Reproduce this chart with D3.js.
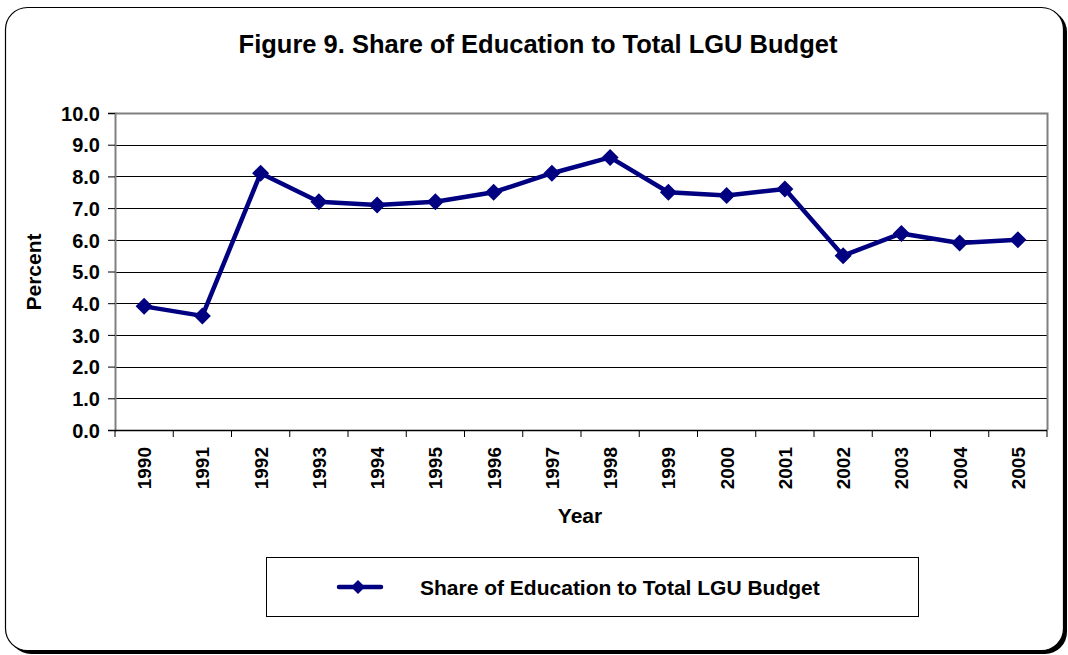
<!DOCTYPE html>
<html lang="en">
<head>
  <meta charset="UTF-8">
  <title>Share of Education to Total LGU Budget</title>
  <style>
    body { margin: 0; background: #fff; font-family: "Liberation Sans", Arial, sans-serif; }
    svg text { font-weight: bold; fill: #000; font-family: "Liberation Sans", Arial, sans-serif; }
  </style>
  <script src="https://d3js.org/d3.v7.min.js"></script>
</head>
<body>
  <div id="chart"></div>
  <script>
  const years = ['1990','1991','1992','1993','1994','1995','1996','1997',
                 '1998','1999','2000','2001','2002','2003','2004','2005'];
  const shares = [3.9, 3.6, 8.1, 7.2, 7.1, 7.2, 7.5, 8.1,
                  8.6, 7.5, 7.4, 7.6, 5.5, 6.2, 5.9, 6.0];
  const yTicks = [0,1,2,3,4,5,6,7,8,9,10];
  const seriesName = 'Share of Education to Total LGU Budget';
  const titleText = 'Figure 9. Share of Education to Total LGU Budget';

  const W = 1068, H = 655;
  const m = {l:115, r:1047, t:113, b:430};
  const navy = '#000080';

  const svg = d3.select('#chart').append('svg')
    .attr('width', W).attr('height', H);

  // outer frame with shadow
  svg.append('rect')
    .attr('x', 9).attr('y', 10).attr('width', 1058).attr('height', 644)
    .attr('rx', 22).attr('fill', '#000');
  svg.append('rect')
    .attr('x', 5.5).attr('y', 7.5).attr('width', 1058).attr('height', 643)
    .attr('rx', 22).attr('fill', '#fff').attr('stroke', '#000').attr('stroke-width', 1.2);

  svg.append('text')
    .attr('x', 538).attr('y', 53).attr('text-anchor', 'middle')
    .style('font-size', '25.5px').text(titleText);

  const x = d3.scaleBand().domain(years).range([m.l, m.r]);
  const y = d3.scaleLinear().domain([0, 10]).range([m.b, m.t]);

  // gridlines
  svg.append('g').selectAll('line').data(yTicks.filter(d => d > 0 && d < 10)).join('line')
    .attr('x1', m.l).attr('x2', m.r)
    .attr('y1', d => Math.round(y(d)) + 0.5).attr('y2', d => Math.round(y(d)) + 0.5)
    .attr('stroke', '#000').attr('stroke-width', 1);

  // plot border (top/right gray)
  svg.append('path')
    .attr('d', `M${m.l},${m.t + 0.5}H${m.r + 0.5}V${m.b}`)
    .attr('fill', 'none').attr('stroke', '#808080').attr('stroke-width', 2);

  // y axis
  const yAxis = svg.append('g')
    .attr('transform', `translate(${m.l},0)`)
    .call(d3.axisLeft(y).tickValues(yTicks).tickFormat(d3.format('.1f')).tickSizeOuter(0).tickSize(7));
  yAxis.select('.domain').attr('stroke', '#808080').attr('stroke-width', 2);
  yAxis.selectAll('.tick line').attr('stroke', '#000');
  yAxis.selectAll('.tick text').attr('x', -15).attr('dy', '0.36em').style('font-size', '20px');

  // x axis: ticks between categories
  const xg = svg.append('g').attr('transform', `translate(0,${m.b})`);
  xg.append('line').attr('x1', m.l).attr('x2', m.r).attr('y1', 0.5).attr('y2', 0.5)
    .attr('stroke', '#000').attr('stroke-width', 1.5);
  xg.selectAll('line.tk').data(years.concat(['end'])).join('line')
    .attr('class', 'tk')
    .attr('x1', (d, i) => m.l + i * x.step()).attr('x2', (d, i) => m.l + i * x.step())
    .attr('y1', 0).attr('y2', 7).attr('stroke', '#000');
  xg.selectAll('text').data(years).join('text')
    .attr('transform', d => `translate(${x(d) + x.bandwidth() / 2 + 7},${17}) rotate(-90)`)
    .attr('text-anchor', 'end').style('font-size', '19px').text(d => d);

  // axis titles
  svg.append('text')
    .attr('transform', `translate(41,272) rotate(-90)`)
    .attr('text-anchor', 'middle').style('font-size', '21px').text('Percent');
  svg.append('text')
    .attr('x', 580).attr('y', 523).attr('text-anchor', 'middle')
    .style('font-size', '21px').text('Year');

  // series
  const line = d3.line().x((d, i) => x(years[i]) + x.bandwidth() / 2).y(d => y(d));
  svg.append('path').datum(shares)
    .attr('d', line).attr('fill', 'none')
    .attr('stroke', navy).attr('stroke-width', 4.5).attr('stroke-linejoin', 'round');
  const diamond = 'M0,-8.5L8.5,0L0,8.5L-8.5,0Z';
  svg.append('g').selectAll('path').data(shares).join('path')
    .attr('transform', (d, i) => `translate(${x(years[i]) + x.bandwidth() / 2},${y(d)})`)
    .attr('d', diamond).attr('fill', navy);

  // legend
  const lg = svg.append('g');
  lg.append('rect')
    .attr('x', 266.5).attr('y', 557.5).attr('width', 652).attr('height', 59)
    .attr('fill', '#fff').attr('stroke', '#000').attr('stroke-width', 1);
  lg.append('line').attr('x1', 339).attr('x2', 381).attr('y1', 587).attr('y2', 587)
    .attr('stroke', navy).attr('stroke-width', 4.5).attr('stroke-linecap', 'round');
  lg.append('path').attr('transform', 'translate(358,587)').attr('d', 'M0,-7L7,0L0,7L-7,0Z').attr('fill', navy);
  lg.append('text').attr('x', 420).attr('y', 595).style('font-size', '21px').text(seriesName);
  </script>
</body>
</html>
